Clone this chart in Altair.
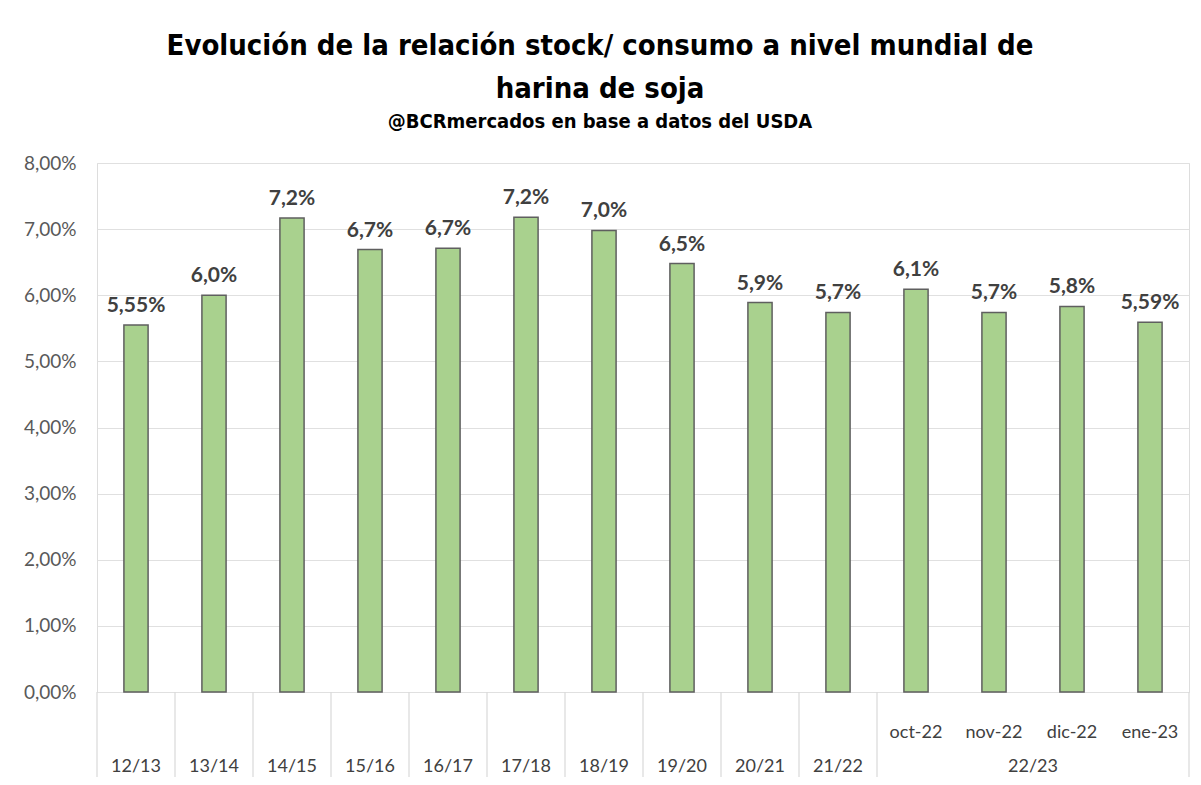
import altair as alt
import pandas as pd

categories = ["12/13", "13/14", "14/15", "15/16", "16/17", "17/18", "18/19",
              "19/20", "20/21", "21/22", "oct-22", "nov-22", "dic-22", "ene-23"]
values = [5.55, 6.00, 7.17, 6.69, 6.71, 7.18, 6.98, 6.48, 5.89, 5.74, 6.09, 5.74, 5.83, 5.59]
value_labels = ["5,55%", "6,0%", "7,2%", "6,7%", "6,7%", "7,2%", "7,0%",
                "6,5%", "5,9%", "5,7%", "6,1%", "5,7%", "5,8%", "5,59%"]
label_rows = ["bottom"] * 10 + ["top"] * 4
group_label = "22/23"
group_anchor = "dic-22"
sep_start = categories[:11]
sep_end = [categories[-1]]
y_ticks = [0, 1, 2, 3, 4, 5, 6, 7, 8]

title_lines = ["Evolución de la relación stock/ consumo a nivel mundial de", "harina de soja"]
subtitle = "@BCRmercados en base a datos del USDA"

W, H = 1092, 529
COND = "DejaVu Sans Condensed"

df = pd.DataFrame({"cat": categories, "val": values, "lab": value_labels, "row": label_rows})
df_group = pd.DataFrame({"cat": [group_anchor], "lab": [group_label]})
df_sep0 = pd.DataFrame({"cat": sep_start})
df_sep1 = pd.DataFrame({"cat": sep_end})

xscale = alt.Scale(domain=categories, paddingInner=0, paddingOuter=0)

def X(**kw):
    return alt.X("cat:N", sort=categories, scale=xscale, axis=None, **kw)

base = alt.Chart(df)

bars = base.mark_bar(width={"band": 0.31}, color="#A9D18E", stroke="#5f5f5f", strokeWidth=1.5).encode(
    x=X(),
    y=alt.Y("val:Q", scale=alt.Scale(domain=[0, 8], nice=False),
            axis=alt.Axis(values=y_ticks, title=None, domain=False, ticks=False,
                          grid=True, gridColor="#e0e0e0", gridWidth=1.2,
                          labelExpr="replace(format(datum.value, '.2f'), '.', ',') + '%'",
                          labelFont="Lato", labelFontSize=19, labelColor="#595959",
                          labelPadding=21)),
)

vlabels = base.mark_text(font="Lato", fontWeight="bold", fontSize=21, color="#404040",
                         baseline="middle", dy=-19).encode(
    x=X(), y=alt.Y("val:Q"), text="lab:N")

years = base.transform_filter("datum.row == 'bottom'").mark_text(
    font="Lato", fontSize=18, color="#404040", baseline="middle").encode(
    x=X(), y=alt.value(H + 75), text="cat:N")

months = base.transform_filter("datum.row == 'top'").mark_text(
    font="Lato", fontSize=18, color="#404040", baseline="middle").encode(
    x=X(), y=alt.value(H + 41), text="cat:N")

group = alt.Chart(df_group).mark_text(
    font="Lato", fontSize=18, color="#404040", baseline="middle").encode(
    x=X(bandPosition=0), y=alt.value(H + 75), text="lab:N")

sep0 = alt.Chart(df_sep0).mark_rule(color="#d9d9d9", strokeWidth=1.2).encode(
    x=X(bandPosition=0), y=alt.value(H), y2=alt.value(H + 85))
sep1 = alt.Chart(df_sep1).mark_rule(color="#d9d9d9", strokeWidth=1.2).encode(
    x=X(bandPosition=1), y=alt.value(H), y2=alt.value(H + 85))

chart = alt.layer(bars, vlabels, sep0, sep1, years, months, group).properties(
    width=W, height=H,
    title=alt.TitleParams(
        text=title_lines, subtitle=subtitle,
        font=COND, fontSize=29, fontWeight="bold", color="black",
        lineHeight=43,
        subtitleFont=COND, subtitleFontSize=20, subtitleFontWeight="bold",
        subtitleColor="black", subtitlePadding=8,
        anchor="middle", offset=22, dx=-43),
    autosize=alt.AutoSizeParams(type="none"),
    padding={"left": 89, "top": 155, "right": 2, "bottom": 85},
).configure_view(stroke=None).configure(background="white")

chart.save("out.html", embed_options={"renderer": "svg", "actions": False})
